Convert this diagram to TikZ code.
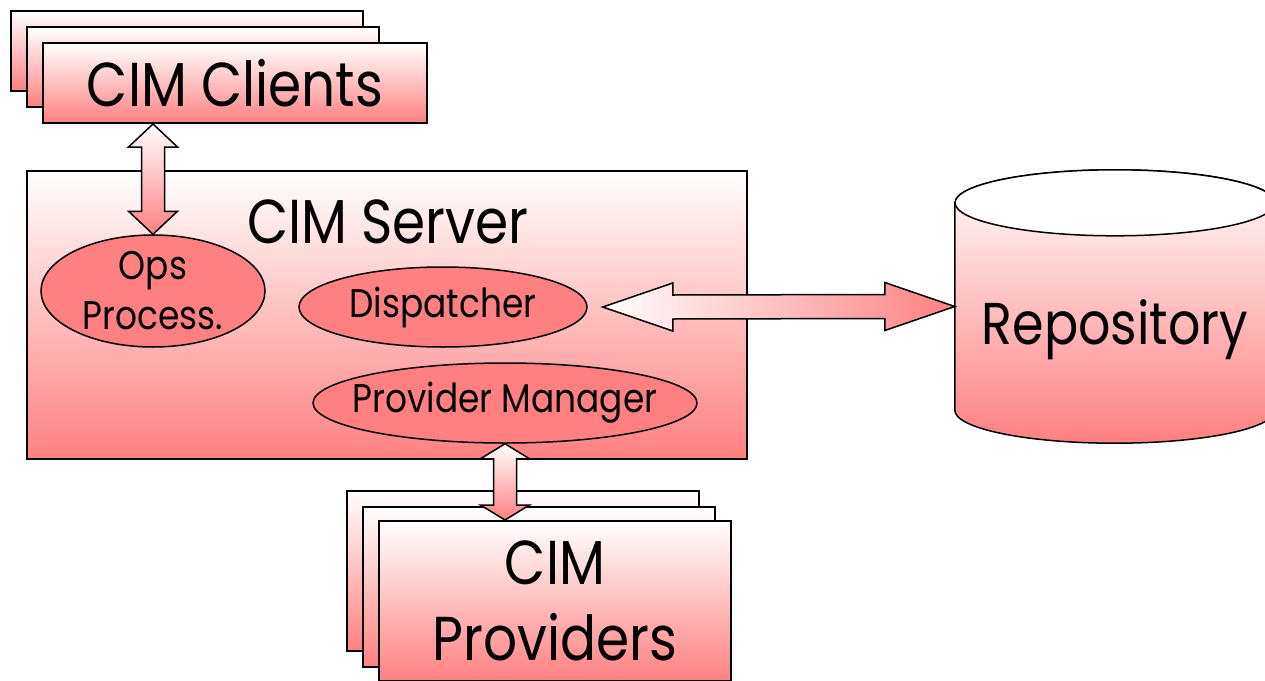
\documentclass[tikz,border=0pt]{standalone}
\usepackage{fontspec}
\setmainfont{Poppins}[FakeStretch=0.86]
\usetikzlibrary{calc, shapes.geometric}
\definecolor{salmon}{RGB}{255,128,128}

\tikzset{
	stackbox/.style={draw, line width=2pt, top color=white, bottom color=salmon, inner sep=0pt},
	procnode/.style={ellipse, draw, line width=1.5pt, fill=salmon, inner sep=0pt},
	varrow/.style={draw, line width=1.5pt, top color=white, bottom color=salmon},
	harrow/.style={draw, line width=1.5pt, left color=white, right color=salmon},
	bigtext/.style={font=\fontsize{62}{76}\selectfont},
	midtext/.style={font=\fontsize{40}{50}\selectfont, align=center, inner sep=0pt}
}

\begin{document}
\begin{tikzpicture}[x=1pt, y=-1pt]
			\useasboundingbox (0, 0) rectangle (1265, 680);
			
			% clients stack
			\node[stackbox, minimum width=352pt, minimum height=80pt] (clientsC) at (187, 51) {};
			\node[stackbox, minimum width=352pt, minimum height=80pt] (clientsB) at (203, 67) {};
			\node[stackbox, bigtext, minimum width=384pt, minimum height=80pt] (clients) at (235, 83) {CIM Clients};
			
			% server
			\node[stackbox, minimum width=720pt, minimum height=288pt] (server) at (387, 315) {};
			\node[bigtext] (servertitle) at (388, 222) {CIM Server};
			\node[procnode, minimum width=224pt, minimum height=112pt, label={[midtext]center:Ops\\Process.}] (ops) at (153, 291) {};
			\node[procnode, minimum width=288pt, minimum height=80pt, label={[midtext]center:Dispatcher}] (disp) at (443, 307) {};
			\node[procnode, minimum width=384pt, minimum height=80pt, label={[midtext]center:Provider Manager}] (provman) at (505, 403) {};
			
			% providers stack
			\node[stackbox, minimum width=352pt, minimum height=160pt] (provC) at (523, 571) {};
			\node[stackbox, minimum width=352pt, minimum height=160pt] (provB) at (539, 587) {};
			\node[stackbox, bigtext, align=center, minimum width=352pt, minimum height=160pt] (prov) at (555, 601) {CIM\\Providers};
			
			% repository
			\node[minimum width=320pt, minimum height=273pt] (repo) at (1115, 306.5) {};
			\draw[line width=1.5pt, top color=white, bottom color=salmon] ($(repo.north west)+(0, 33)$) -- ($(repo.south west)+(0, -33)$)
				arc[start angle=180, end angle=360, x radius=160pt, y radius=33pt] -- ($(repo.north east)+(0, 33)$)
				arc[start angle=0, end angle=180, x radius=160pt, y radius=33pt] -- cycle;
			\draw[line width=1.5pt, fill=white] ($(repo.north)+(0, 33)$) ellipse[x radius=160pt, y radius=33pt];
			\node[font=\fontsize{59}{70}\selectfont] (repolabel) at (1115, 330) {Repository};
			
			% arrows
			\coordinate (opsT) at (ops.north |- clients.south);
			\draw[varrow] (opsT) -- ++(24.5, 23) -- ++(-13, 0) -- ($(ops.north)+(11.5, -23)$) -- ++(13, 0) -- (ops.north)
				-- ++(-24.5, -23) -- ++(13, 0) -- ($(opsT)+(-11.5, 23)$) -- ++(-13, 0) -- cycle;
			
			\coordinate (provT) at (provman.south |- prov.north);
			\draw[varrow] (provman.south) -- ++(24.5, 15) -- ++(-13, 0) -- ($(provT)+(11.5, -15)$) -- ++(13, 0) -- (provT)
				-- ++(-24.5, -15) -- ++(13, 0) -- ($(provman.south)+(-11.5, 15)$) -- ++(-13, 0) -- cycle;
			
			\coordinate (dispR) at ($(disp.east)+(15, 0)$);
			\draw[harrow] (dispR) -- ++(70, -24) -- ++(0, 12) -- ($(repo.west)+(-70, -12)$) -- ++(0, -12) -- (repo.west)
				-- ++(-70, 24) -- ++(0, -12) -- ($(dispR)+(70, 12)$) -- ++(0, 12) -- cycle;
			
		\end{tikzpicture}
\end{document}
